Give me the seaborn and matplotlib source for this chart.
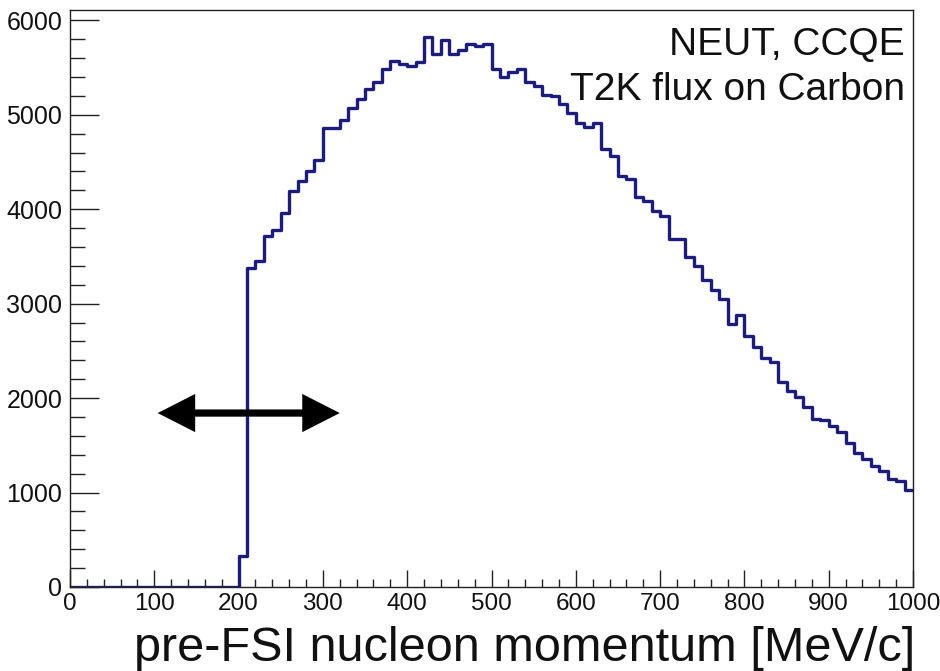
import numpy as np
import pandas as pd
import matplotlib
matplotlib.use("Agg")
import matplotlib.pyplot as plt
from matplotlib.ticker import MultipleLocator
from matplotlib.patches import FancyArrowPatch
import seaborn as sns

# binning of the histogram (MeV/c)
bin_width = 10
bin_range = (0, 1000)
bin_centers = np.arange(0, 1000, bin_width) + bin_width / 2

# counts, one per 10 MeV/c bin from 0 to 1000
counts = [0] * 20 + [
    330, 3380, 3450, 3720, 3780, 3960, 4190, 4300, 4400, 4520,      # 200-290
    4860, 4860, 4940, 5070, 5170, 5270, 5350, 5490, 5570, 5540,     # 300-390
    5520, 5560, 5820, 5640, 5790, 5640, 5690, 5750, 5730, 5750,     # 400-490
    5490, 5400, 5450, 5480, 5350, 5300, 5210, 5200, 5110, 5020,     # 500-590
    4910, 4870, 4910, 4640, 4560, 4350, 4320, 4130, 4090, 3980,     # 600-690
    3930, 3680, 3680, 3490, 3400, 3250, 3140, 3045, 2780, 2880,     # 700-790
    2660, 2545, 2420, 2380, 2175, 2080, 2015, 1910, 1780, 1770,     # 800-890
    1710, 1640, 1520, 1420, 1360, 1280, 1225, 1140, 1120, 1025,     # 900-990
]

x_label = "pre-FSI nucleon momentum [MeV/c]"
label_lines = ["NEUT, CCQE", "T2K flux on Carbon"]
x_ticks = np.arange(0, 1001, 100)
y_ticks = np.arange(0, 6001, 1000)

# double arrow (data coords): left tip, centre, right tip
arrow_x = [104, 212, 320]
arrow_y = 1842

line_color = "#1c1c80"
text_color = "#111111"

df = pd.DataFrame({'momentum': bin_centers, 'count': counts})

sns.set_style("ticks")
plt.rcParams['font.family'] = ['Liberation Sans', 'DejaVu Sans']

fig = plt.figure(figsize=(9.4, 6.71), dpi=100)
ax = fig.add_axes([70 / 940, 1 - 587 / 671, 843 / 940, 577 / 671])

sns.histplot(
    data=df,
    x='momentum',
    weights='count',
    binwidth=bin_width,
    binrange=bin_range,
    element="step",
    fill=False,
    color=line_color,
    linewidth=2.4,
    ax=ax,
)

ax.set_xlim(0, 1000)
ax.set_ylim(0, 6110)
ax.set_xticks(x_ticks)
ax.set_yticks(y_ticks)
ax.xaxis.set_minor_locator(MultipleLocator(20))
ax.yaxis.set_minor_locator(MultipleLocator(200))

ax.tick_params(axis='x', which='major', direction='in', length=12, width=1.0,
               pad=4, color='#222222', labelcolor=text_color)
ax.tick_params(axis='x', which='minor', direction='in', length=5.8, width=1.0,
               color='#222222')
ax.tick_params(axis='y', which='major', direction='in', length=21, width=1.0,
               pad=5.5, color='#222222', labelcolor=text_color, labelsize=18)
ax.tick_params(axis='y', which='minor', direction='in', length=10.5, width=1.0,
               color='#222222')
for lab in ax.get_xticklabels():
    lab.set_family(['Liberation Sans Narrow', 'Liberation Sans'])
    lab.set_fontsize(17.5)

for side in ['left', 'right', 'top', 'bottom']:
    ax.spines[side].set_visible(True)
    ax.spines[side].set_color('#222222')
    ax.spines[side].set_linewidth(1.0)

ax.set_ylabel('')
ax.set_xlabel(x_label, fontsize=35, loc='right', color=text_color)
ax.xaxis.label.set_va('baseline')
ax.xaxis.set_label_coords(1.0024, (587 - 661) / 577)

ax.text(0.9905, 0.922, label_lines[0], transform=ax.transAxes,
        ha='right', va='baseline', fontsize=28, color=text_color)
ax.text(0.9905, 0.844, label_lines[1], transform=ax.transAxes,
        ha='right', va='baseline', fontsize=28, color=text_color)

# two single-headed arrows from the centre outwards make the double arrow
for tip in (arrow_x[0], arrow_x[2]):
    half = FancyArrowPatch(
        (arrow_x[1], arrow_y), (tip, arrow_y),
        arrowstyle='simple,head_length=2.7,head_width=2.75,tail_width=0.52',
        mutation_scale=10, linewidth=0, color='black',
        shrinkA=0, shrinkB=0, zorder=5,
    )
    ax.add_patch(half)

fig.savefig("out.png", dpi=100)
